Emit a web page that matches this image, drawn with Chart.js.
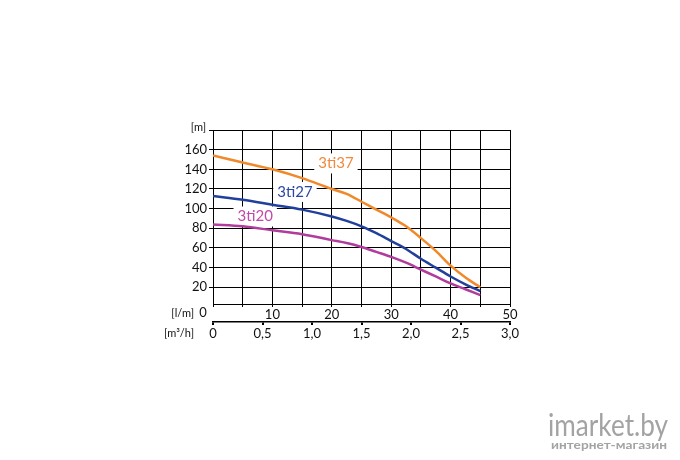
<!DOCTYPE html>
<html>
<head>
<meta charset="utf-8">
<script src="https://cdn.jsdelivr.net/npm/chart.js@4.4.1/dist/chart.umd.min.js"></script>
<style>
  html, body { margin: 0; padding: 0; background: #fff; }
  #wrap { width: 680px; height: 460px; }
</style>
</head>
<body>
<div id="wrap"><canvas id="pumpChart" width="680" height="460"></canvas></div>
<script>
// flow in l/m and head in m
const flowLpm = [0, 5, 10, 15, 20, 22.5, 25, 27.5, 30, 32.5, 35, 37.5, 40, 42.5, 45];
const head3ti37 = [154, 147, 140, 131, 120, 115, 107, 99, 91, 82, 70, 57, 42, 30, 20];
const head3ti27 = [113, 109, 104, 99, 92, 87.5, 82, 75, 67, 59, 49, 40, 31, 23, 16];
const head3ti20 = [84, 82, 78, 74, 68, 65, 61, 56, 51, 45, 38, 31, 24, 18, 12];
const seriesNames = ['3ti37', '3ti27', '3ti20'];
const yTicks = [20, 40, 60, 80, 100, 120, 140, 160, 180];
const m3hTicks = [0, 0.5, 1.0, 1.5, 2.0, 2.5, 3.0];

const colors = ['#f0892a', '#21409c', '#b03c9c'];
const textColors = ['#f08a3e', '#2b47a6', '#c04aa8'];
const FONT = 'Lato, "DejaVu Sans", sans-serif';

function toPoints(ys) {
    return flowLpm.map((x, i) => ({ x: x, y: ys[i] }));
}

const datasets = [head3ti37, head3ti27, head3ti20].map((ys, i) => ({
    label: seriesNames[i],
    data: toPoints(ys),
    borderColor: colors[i],
    borderWidth: 2.5,
    pointRadius: 0,
    fill: false,
    cubicInterpolationMode: 'monotone'
}));

// where the curve names sit, in chart units (l/m, m)
const nameAnchors = [[20.7, 146], [13.8, 117], [7.1, 92]];

// draw text squeezed to a given width
function fitText(ctx, text, x, y, width) {
    const w = ctx.measureText(text).width;
    ctx.save();
    ctx.translate(x, y);
    ctx.scale(width / w, 1);
    ctx.fillText(text, 0, 0);
    ctx.restore();
}

const textPlugin = {
    id: 'extraText',
    beforeDatasetsDraw(chart) {
        const ctx = chart.ctx;
        const xs = chart.scales.x, ys = chart.scales.y;
        ctx.save();
        ctx.font = '15px ' + FONT;
        ctx.textAlign = 'center';
        ctx.textBaseline = 'middle';
        nameAnchors.forEach((a, i) => {
            const px = xs.getPixelForValue(a[0]);
            const py = ys.getPixelForValue(a[1]);
            const w = ctx.measureText(seriesNames[i]).width + 8;
            ctx.fillStyle = '#fff';
            ctx.fillRect(px - w / 2, py - 10, w, 20);
            ctx.fillStyle = textColors[i];
            ctx.fillText(seriesNames[i], px, py);
        });
        ctx.restore();
    },
    afterDraw(chart) {
        const ctx = chart.ctx;
        const area = chart.chartArea;
        ctx.save();
        ctx.fillStyle = '#111';
        ctx.font = '11px ' + FONT;
        ctx.textBaseline = 'middle';
        ctx.textAlign = 'right';
        ctx.fillText('[m]', area.left - 7, area.top - 3);
        ctx.fillText('[l/m]', area.left - 19, area.bottom + 9);
        ctx.fillText('[m³/h]', area.left - 19, area.bottom + 29);
        ctx.font = '13px ' + FONT;
        ctx.textAlign = 'center';
        ctx.fillText('0', area.left - 10, area.bottom + 9);
        // watermark
        ctx.fillStyle = '#a3a3a3';
        ctx.textAlign = 'left';
        ctx.font = '30px ' + FONT;
        fitText(ctx, 'imarket.by', 548, 426, 120);
        ctx.font = 'bold 12px ' + FONT;
        fitText(ctx, 'интернет-магазин', 551, 445, 116);
        ctx.restore();
    }
};

const pumpConfig = {
    type: 'line',
    data: { datasets: datasets },
    options: {
        responsive: false,
        animation: false,
        layout: { padding: { left: 0, right: 170, top: 130, bottom: 116 } },
        plugins: {
            legend: { display: false },
            tooltip: { enabled: false }
        },
        scales: {
            x: {
                type: 'linear',
                position: 'bottom',
                min: 0,
                max: 50,
                afterFit: s => { s.height = 18; },
                ticks: {
                    stepSize: 5,
                    padding: 0,
                    maxRotation: 0,
                    autoSkip: false,
                    color: '#111',
                    font: { family: FONT, size: 13 },
                    callback: v => (v > 0 && v % 10 === 0) ? String(v) : ''
                },
                grid: { color: '#000', lineWidth: 1, tickLength: 3 },
                border: { color: '#000', width: 1 }
            },
            x2: {
                type: 'linear',
                position: 'bottom',
                min: 0,
                max: 3,
                afterFit: s => { s.height = 22; },
                afterBuildTicks: s => { s.ticks = m3hTicks.map(v => ({ value: v })); },
                ticks: {
                    padding: 1,
                    maxRotation: 0,
                    autoSkip: false,
                    color: '#111',
                    font: { family: FONT, size: 13 },
                    callback: v => v === 0 ? '0' : v.toFixed(1).replace('.', ',')
                },
                grid: { drawOnChartArea: false, color: '#000', lineWidth: 2, tickLength: 3 },
                border: { color: '#000', width: 1.5 }
            },
            y: {
                min: 3,
                max: 180,
                afterFit: s => { s.width = 213; },
                afterBuildTicks: s => { s.ticks = yTicks.map(v => ({ value: v })); },
                ticks: {
                    padding: 2,
                    color: '#111',
                    font: { family: FONT, size: 13 },
                    callback: v => v >= 180 ? '' : String(v)
                },
                grid: { color: '#000', lineWidth: 1, tickLength: 4 },
                border: { color: '#000', width: 1 }
            }
        }
    },
    plugins: [textPlugin]
};

const pumpChart = new Chart(document.getElementById('pumpChart'), pumpConfig);
</script>
</body>
</html>
